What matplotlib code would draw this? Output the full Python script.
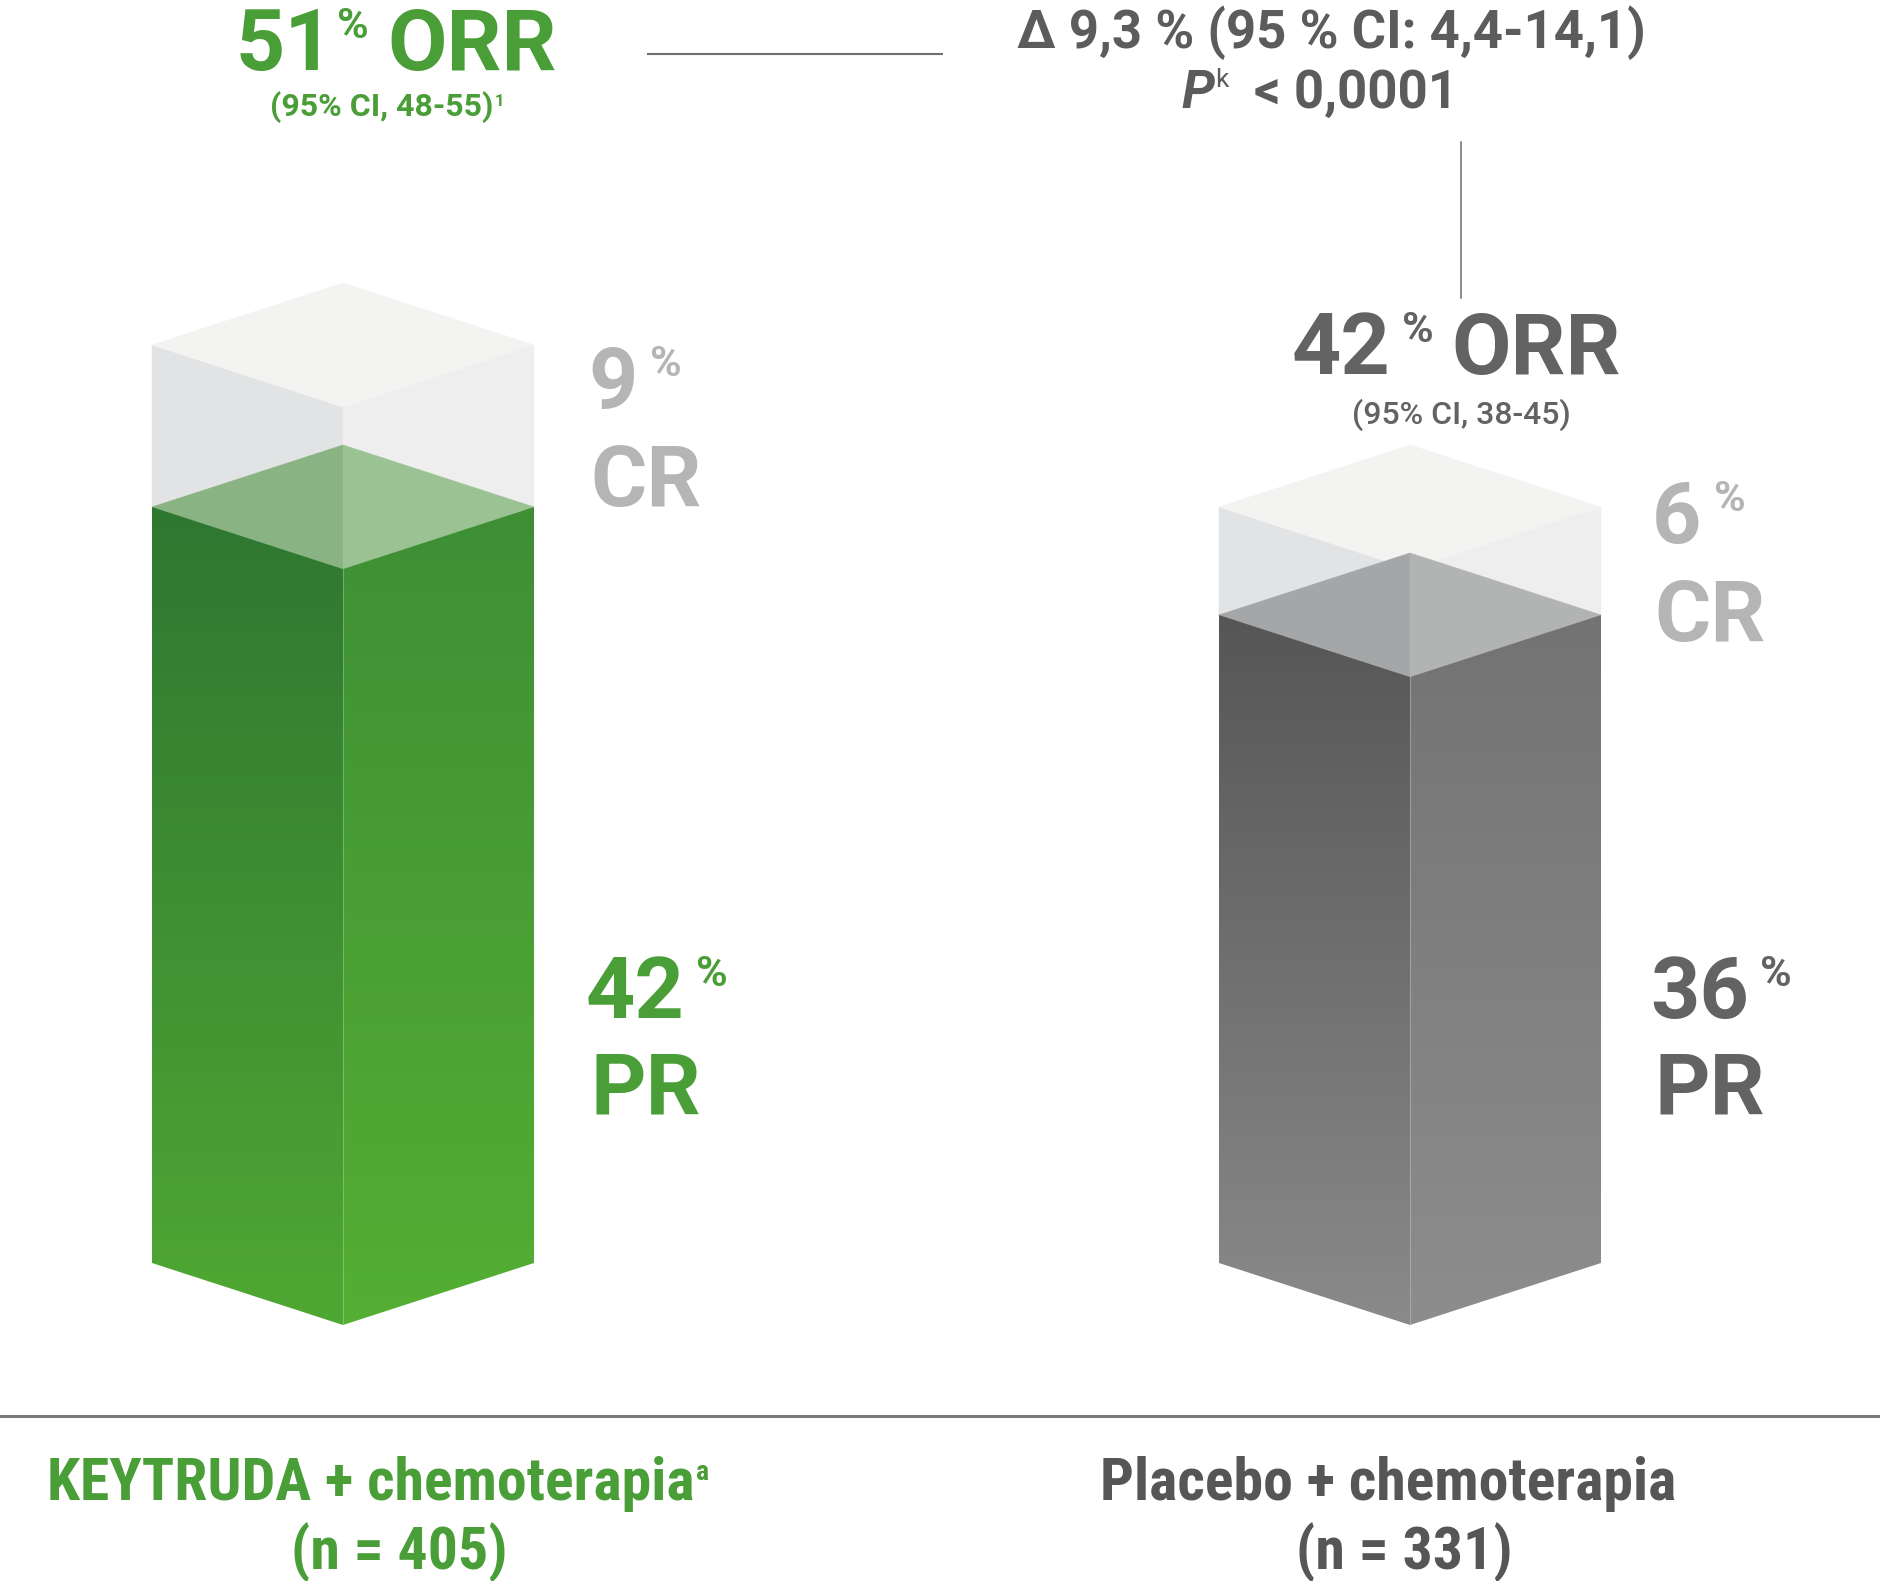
import matplotlib
matplotlib.use('Agg')
import matplotlib.pyplot as plt
import numpy as np
from matplotlib.patches import Polygon
from matplotlib.colors import LinearSegmentedColormap

# chart data
arms = ['KEYTRUDA + chemoterapia', 'Placebo + chemoterapia']
arm_marks = ['a', '']
n_patients = [405, 331]
pr_pct = [42, 36]
cr_pct = [9, 6]
orr_pct = [51, 42]
orr_ci = ['48-55', '38-45']
orr_ref = ['1', '']
diff_text = '\u2206 9,3 % (95 % CI: 4,4-14,1)'
p_text = '< 0,0001'

WIDE = ['Roboto', 'DejaVu Sans']
NARROW = ['Roboto Condensed', 'Roboto', 'DejaVu Sans']
plt.rcParams['font.family'] = WIDE

GREEN = '#4a9e37'
DARK = '#636363'
LIGHT = '#b5b5b5'
TXT = '#5c5c5c'

W, H = 1881, 1581
BASE = 1325      # pixel row of the bar's bottom front corner
SCALE = 18.0     # pixels per percentage point
DEPTH = 62 / SCALE
HALF = 191
centers = [343, 1410]


def row(py):
    # pixel row -> data units (percent)
    return (BASE - py) / SCALE


fig = plt.figure(figsize=(W / 100, H / 100), dpi=100)
ax = fig.add_axes([0, 0, 1, 1])
ax.set_xlim(0, W)
ax.set_ylim(row(H), row(0))
ax.axis('off')


def flat(pts, color, z):
    ax.add_patch(Polygon(pts, closed=True, facecolor=color, edgecolor=color,
                         linewidth=0.4, zorder=z))


def grad(pts, top, bottom, z):
    clip = Polygon(pts, closed=True, transform=ax.transData)
    xs = [p[0] for p in pts]
    ys = [p[1] for p in pts]
    cmap = LinearSegmentedColormap.from_list('f', [bottom, top])
    im = ax.imshow(np.linspace(0, 1, 256).reshape(-1, 1), cmap=cmap, origin='lower',
                   extent=(min(xs), max(xs), min(ys), max(ys)), aspect='auto',
                   interpolation='bilinear', zorder=z)
    im.set_clip_path(clip)


styles = [
    dict(left=('#2e7731', '#4fa833'), right=('#3e8f35', '#54af33'),
         lid=('#8ab383', '#9bc292')),
    dict(left=('#565656', '#8a8a8a'), right=('#737373', '#8d8d8d'),
         lid=('#a5a6a7', '#b2b3b3')),
]

for i, xc in enumerate(centers):
    pr = pr_pct[i]
    tot = pr_pct[i] + cr_pct[i]
    st = styles[i]
    xl, xr = xc - HALF, xc + HALF
    # CR block (translucent box on top)
    flat([(xl, pr + DEPTH), (xc, pr), (xc, tot), (xl, tot + DEPTH)], '#e2e3e5', 2)
    flat([(xc, pr), (xr, pr + DEPTH), (xr, tot + DEPTH), (xc, tot)], '#eeeeee', 2)
    flat([(xl, tot + DEPTH), (xc, tot + 2 * DEPTH), (xr, tot + DEPTH), (xc, tot)], '#f3f3f2', 2)
    # PR lid seen through the CR box
    flat([(xl, pr + DEPTH), (xc, pr + 2 * DEPTH), (xc, pr)], st['lid'][0], 3)
    flat([(xc, pr + 2 * DEPTH), (xr, pr + DEPTH), (xc, pr)], st['lid'][1], 3)
    # PR front faces
    grad([(xl, DEPTH), (xc, 0), (xc, pr), (xl, pr + DEPTH)], st['left'][0], st['left'][1], 4)
    grad([(xc, 0), (xr, DEPTH), (xr, pr + DEPTH), (xc, pr)], st['right'][0], st['right'][1], 4)
    ax.plot([xc, xc], [0, pr], color='white', alpha=0.25, lw=0.8, zorder=5)

ax.set_xlim(0, W)
ax.set_ylim(row(H), row(0))

BIG = 62
PCT = 31


def number_label(x, y, num, color, gap=7, after=None, after_gap=0):
    t = ax.text(x, y, num, color=color, fontsize=BIG, fontweight='bold',
                ha='left', va='baseline', zorder=6)
    p = ax.annotate('%', xy=(1, 1), xycoords=t, xytext=(gap, 0), textcoords='offset points',
                    color=color, fontsize=PCT, fontweight='bold', ha='left', va='top')
    if after:
        ax.annotate(after, xy=(1, 0), xycoords=(p, t), xytext=(after_gap, 0),
                    textcoords='offset points', color=color, fontsize=BIG,
                    fontweight='bold', ha='left', va='bottom')
    return t


lab_x = [588, 1652]
for i, xc in enumerate(centers):
    pr = pr_pct[i]
    tot = pr_pct[i] + cr_pct[i]
    # CR label centred on the CR segment
    mid_px = BASE - ((pr + tot) / 2 + DEPTH) * SCALE
    number_label(lab_x[i], row(mid_px - 18), str(cr_pct[i]), LIGHT, gap=9)
    ax.text(lab_x[i] + 2, row(mid_px + 80), 'CR', color=LIGHT, fontsize=BIG,
            fontweight='bold', ha='left', va='baseline')
    # PR label
    c = GREEN if i == 0 else DARK
    number_label(lab_x[i] - 2, row(1018), str(pr_pct[i]), c, gap=8)
    ax.text(lab_x[i] + 2, row(1114), 'PR', color=c, fontsize=BIG,
            fontweight='bold', ha='left', va='baseline')

# ORR headline, KEYTRUDA arm
number_label(236, row(70), str(orr_pct[0]), GREEN, gap=2, after='ORR', after_gap=13)
t = ax.text(382, row(116), '(95% CI, ' + orr_ci[0] + ')', color=GREEN, fontsize=23,
            fontweight='bold', ha='center', va='baseline')
ax.annotate(orr_ref[0], xy=(1, 1), xycoords=t, xytext=(1, -2), textcoords='offset points',
            color=GREEN, fontsize=12, fontweight='bold', ha='left', va='top')

# ORR headline, placebo arm
gy = 374
number_label(1292, row(gy), str(orr_pct[1]), DARK, gap=8, after='ORR', after_gap=13)
ax.text(1461, row(gy + 50), '(95% CI, ' + orr_ci[1] + ')', color=DARK, fontsize=23,
        fontweight=500, ha='center', va='baseline')

# difference annotation and connectors
ax.text(1331, row(48), diff_text, color=TXT, fontsize=38, fontweight='bold',
        ha='center', va='baseline')
t = ax.text(1214, row(108), 'P', color=TXT, fontsize=38, fontweight='bold',
            fontstyle='italic', ha='right', va='baseline')
ax.annotate('k', xy=(1, 1), xycoords=t, xytext=(1, 0), textcoords='offset points',
            color=TXT, fontsize=19, ha='left', va='top')
ax.text(1254, row(108), p_text, color=TXT, fontsize=38, fontweight='bold',
        ha='left', va='baseline')
ax.plot([648, 942], [row(54), row(54)], color='#6e6e6e', lw=1.5)
ax.plot([1461, 1461], [row(142), row(gy - 76)], color='#6e6e6e', lw=1.1)

# baseline separator
ax.plot([0, W], [row(1416), row(1416)], color='#7a7a7a', lw=2.2)

# arm labels
arm_cx = [379, 1388]
for i in range(2):
    c = GREEN if i == 0 else '#565656'
    t = ax.text(arm_cx[i] - (8 if arm_marks[i] else 0), row(1500), arms[i], color=c,
                fontsize=43, fontweight='bold', ha='center', va='baseline', family=NARROW)
    if arm_marks[i]:
        ax.annotate(arm_marks[i], xy=(1, 1), xycoords=t, xytext=(1, -2),
                    textcoords='offset points', color=c, fontsize=20,
                    fontweight='bold', ha='left', va='top', family=NARROW)
    ax.text(arm_cx[i] + (20 if i == 0 else 16), row(1570), '(n = ' + str(n_patients[i]) + ')',
            color=c, fontsize=43, fontweight='bold', ha='center', va='baseline', family=NARROW)

fig.savefig('out.png', dpi=100)
